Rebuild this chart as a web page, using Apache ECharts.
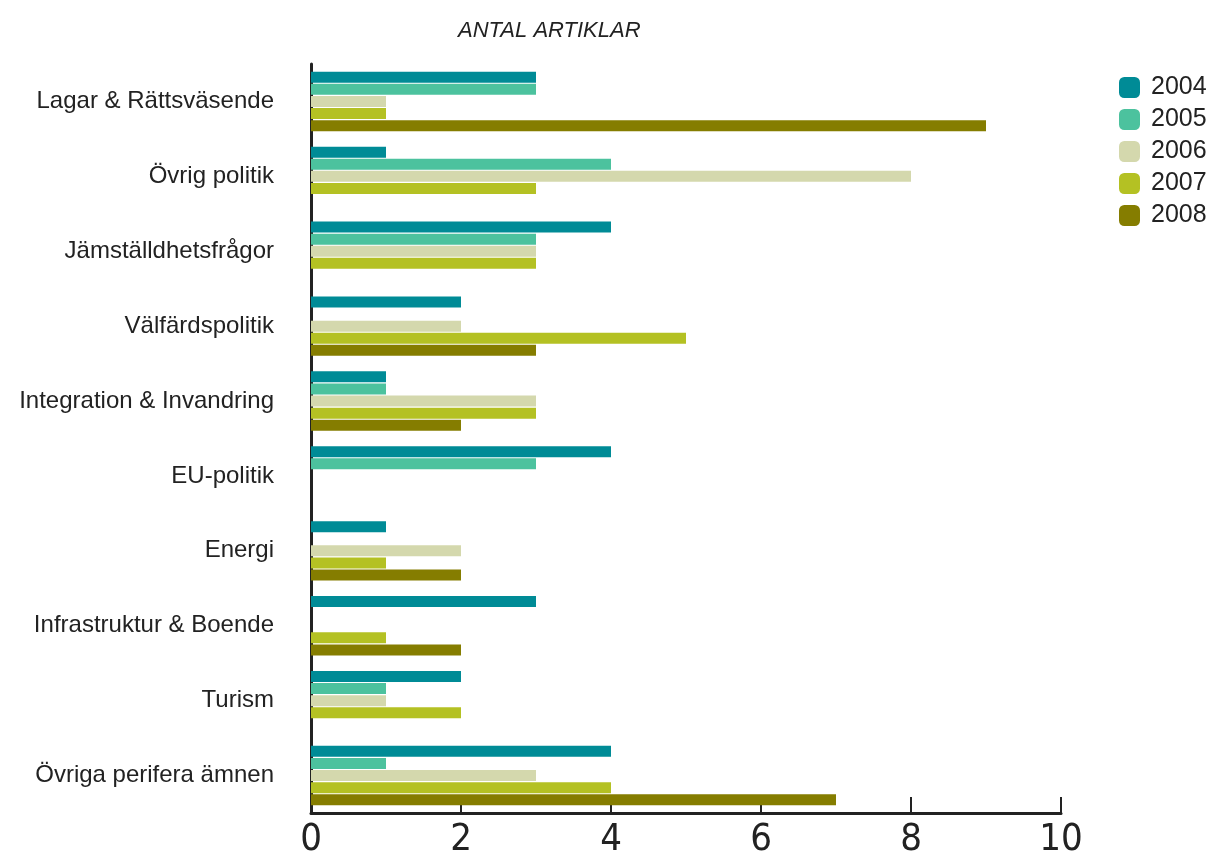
<!DOCTYPE html>
<html>
<head>
<meta charset="utf-8">
<script src="https://cdn.jsdelivr.net/npm/echarts@6/dist/echarts.min.js"></script>
<style>
  html, body { margin: 0; padding: 0; background: #fff; }
  #barsChart { width: 1216px; height: 854px; }
</style>
</head>
<body>
<div id="barsChart"></div>
<script>
// kategorier, uppifrån och ned
const categories = [
  'Lagar & Rättsväsende',
  'Övrig politik',
  'Jämställdhetsfrågor',
  'Välfärdspolitik',
  'Integration & Invandring',
  'EU-politik',
  'Energi',
  'Infrastruktur & Boende',
  'Turism',
  'Övriga perifera ämnen'
]
const years = ['2004', '2005', '2006', '2007', '2008']
const v2004 = [3, 1, 4, 2, 1, 4, 1, 3, 2, 4]
const v2005 = [3, 4, 3, 0, 1, 3, 0, 0, 1, 1]
const v2006 = [1, 8, 3, 2, 3, 0, 2, 0, 1, 3]
const v2007 = [1, 3, 3, 5, 3, 0, 1, 1, 2, 4]
const v2008 = [9, 0, 0, 3, 2, 0, 2, 2, 0, 7]
const xTicks = [0, 2, 4, 6, 8, 10]

const colorArr = ['#008b96', '#4cc29e', '#d4d8ad', '#b4c123', '#857d00']
const allValues = [v2004, v2005, v2006, v2007, v2008]

let seriesList = []
for (let i = 0; i < years.length; i++) {
  seriesList.push({
    name: years[i],
    type: 'bar',
    data: allValues[i],
    barWidth: 11,
    barGap: '10%',
    itemStyle: { color: colorArr[i] }
  })
}

let myChart = echarts.init(document.getElementById('barsChart'))
myChart.setOption({
  animation: false,
  title: {
    text: 'ANTAL ARTIKLAR',
    left: 453,
    top: 15,
    textStyle: {
      color: '#222',
      fontSize: 22,
      fontStyle: 'italic',
      fontWeight: 'normal',
      fontFamily: 'Liberation Sans'
    }
  },
  legend: {
    data: years,
    orient: 'vertical',
    left: 1114,
    top: 70,
    itemWidth: 21,
    itemHeight: 21,
    itemGap: 7,
    icon: 'roundRect',
    textStyle: {
      color: '#222',
      fontSize: 25,
      padding: [0, 0, 0, 6],
      fontFamily: 'Liberation Sans'
    }
  },
  grid: {
    left: 311,
    top: 64,
    width: 750,
    height: 749,
    outerBoundsMode: 'none'
  },
  xAxis: {
    type: 'value',
    min: 0,
    max: 10,
    interval: 2,
    splitLine: { show: false },
    axisLine: {
      show: true,
      lineStyle: { color: '#222', width: 3 }
    },
    axisTick: {
      show: true,
      inside: true,
      length: 16,
      lineStyle: { color: '#222', width: 2 }
    },
    axisLabel: {
      color: '#222',
      fontSize: 38,
      margin: 8,
      fontFamily: 'DejaVu Sans Condensed',
      formatter: function (v) { return xTicks.indexOf(v) >= 0 ? String(v) : '' }
    }
  },
  yAxis: {
    type: 'category',
    data: categories,
    inverse: true,
    axisLine: {
      show: true,
      lineStyle: { color: '#222', width: 3 }
    },
    axisTick: { show: false },
    axisLabel: {
      color: '#222',
      fontSize: 24,
      margin: 37,
      fontFamily: 'Liberation Sans'
    }
  },
  series: seriesList
})
</script>
</body>
</html>
